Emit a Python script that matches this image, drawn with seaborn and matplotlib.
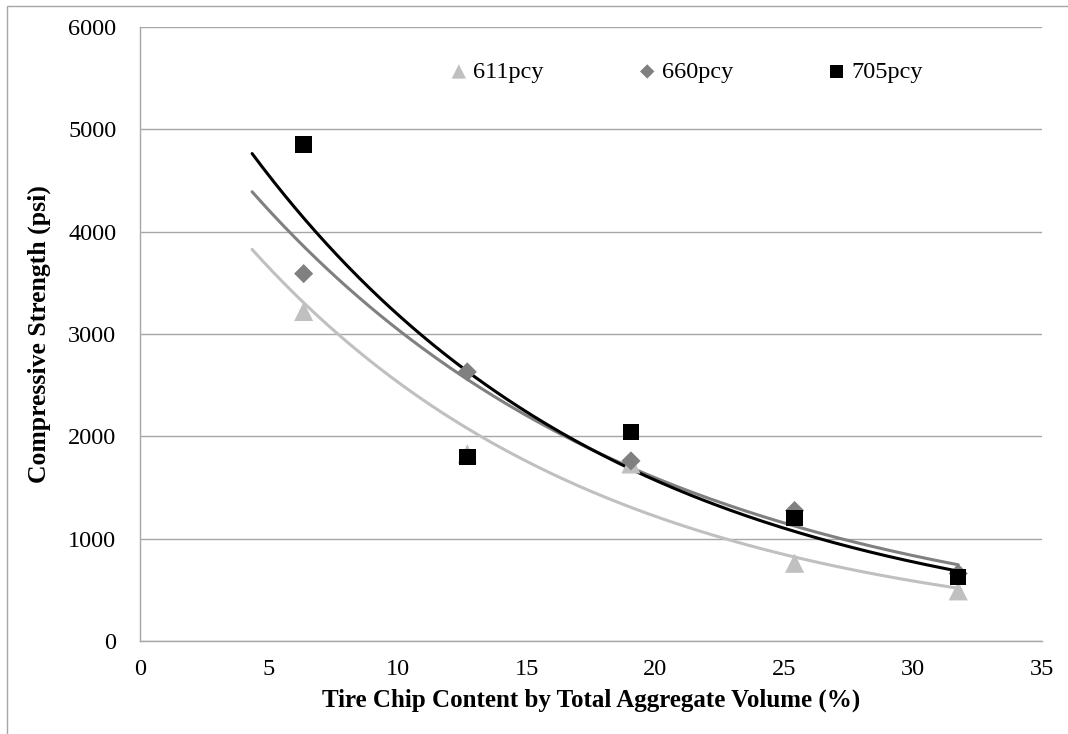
import numpy as np
import pandas as pd
import matplotlib
matplotlib.use('Agg')
import matplotlib.pyplot as plt
from matplotlib.patches import Rectangle
import seaborn as sns

# tire chip content (%)
chip = [6.35, 12.7, 19.05, 25.4, 31.75]
# compressive strength (psi) per cement content
s611 = [3220, 1830, 1730, 760, 490]
s660 = [3590, 2630, 1760, 1275, 660]
s705 = [4850, 1798, 2045, 1200, 625]
series = ['611pcy', '660pcy', '705pcy']

colores = {'611pcy': '#c0c0c0', '660pcy': '#808080', '705pcy': '#000000'}
marcas = {'611pcy': '^', '660pcy': 'D', '705pcy': 's'}
tamanos = {'611pcy': 190, '660pcy': 95, '705pcy': 140}

df = pd.DataFrame({
    'x': chip * 3,
    'y': s611 + s660 + s705,
    'serie': [series[0]] * 5 + [series[1]] * 5 + [series[2]] * 5,
})

sns.set_style('white')
plt.rcParams['font.family'] = ['Liberation Serif', 'DejaVu Serif']
plt.rcParams['text.color'] = 'black'
plt.rcParams['axes.labelcolor'] = 'black'
plt.rcParams['xtick.labelcolor'] = 'black'
plt.rcParams['ytick.labelcolor'] = 'black'

fig = plt.figure(figsize=(10.68, 7.34), dpi=100)
ax = fig.add_axes([140 / 1068, 1 - 641 / 734, (1042 - 140) / 1068, (641 - 27) / 734])

# exponential trendlines (least squares on log values)
xs = np.linspace(4.35, 31.75, 200)
for s in series:
    d = df[df['serie'] == s]
    b, a = np.polyfit(d['x'], np.log(d['y']), 1)
    ax.plot(xs, np.exp(a + b * xs), color=colores[s], lw=2.2, zorder=2)

for s in series:
    d = df[df['serie'] == s]
    sns.scatterplot(data=d, x='x', y='y', marker=marcas[s], s=tamanos[s],
                    color=colores[s], edgecolor='none', ax=ax, zorder=3,
                    label=s)

ax.set_xlim(0, 35)
ax.set_ylim(0, 6000)
ax.set_xticks(range(0, 36, 5))
ax.set_yticks(range(0, 6001, 1000))
ax.yaxis.grid(True, color='#a6a6a6', lw=1)
ax.set_axisbelow(True)
for sp in ['top', 'right']:
    ax.spines[sp].set_visible(False)
for sp in ['left', 'bottom']:
    ax.spines[sp].set_color('#a6a6a6')
    ax.spines[sp].set_linewidth(1)
ax.tick_params(axis='both', which='major', length=7, width=1, color='#a6a6a6',
               labelsize=17.5, labelcolor='black', direction='out')
ax.tick_params(axis='x', pad=6)
ax.tick_params(axis='y', pad=10)

ax.set_xlabel('Tire Chip Content by Total Aggregate Volume (%)', fontsize=18,
              fontweight='bold', labelpad=6, color='black')
ax.set_ylabel('Compressive Strength (psi)', fontsize=18.5, fontweight='bold',
              labelpad=12, color='black')

leg = ax.legend(loc='center left', bbox_to_anchor=(0.340, 0.927), ncol=3,
                frameon=False, fontsize=17.5, handlelength=1.0, handletextpad=0.1,
                columnspacing=3.75, borderpad=0, borderaxespad=0, markerscale=0.75)
for t in leg.get_texts():
    t.set_color('black')

# outer chart frame
fig.patches.append(Rectangle((7 / 1068, -0.1), 1.2, 1 - 6 / 734 + 0.1,
                             transform=fig.transFigure, fill=False,
                             edgecolor='#a6a6a6', lw=1))

fig.savefig('out.png', dpi=100)
